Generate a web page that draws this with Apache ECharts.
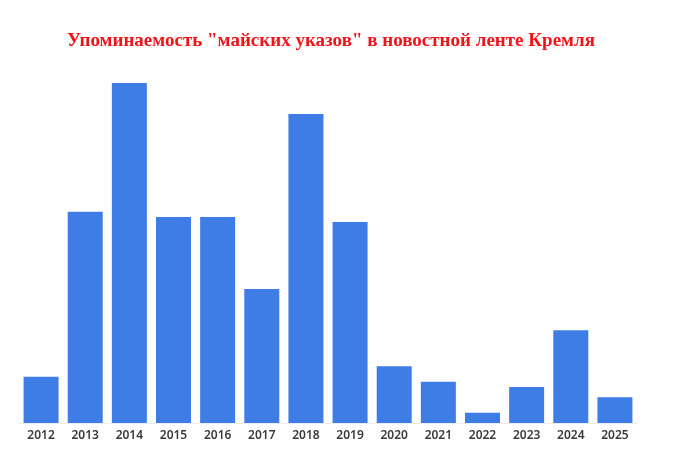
<!DOCTYPE html>
<html><head><meta charset="utf-8">
<script src="https://cdn.jsdelivr.net/npm/echarts@6/dist/echarts.min.js"></script>
<style>html,body{margin:0;padding:0;background:#fff}#c{width:680px;height:451px}</style>
</head><body><div id="c"></div>
<script>
const categories = ['2012','2013','2014','2015','2016','2017','2018','2019','2020','2021','2022','2023','2024','2025'];
const values = [9,41,66,40,40,26,60,39,11,8,2,7,18,5];
const titleText = 'Упоминаемость "майских указов" в новостной ленте Кремля';
const chart = echarts.init(document.getElementById('c'));
chart.setOption({
  animation: false,
  title: {
    text: titleText, left: 326, top: 27, textAlign: 'center',
    textStyle: {fontFamily: 'Liberation Serif', fontWeight: 'bold', fontSize: 19, color: '#f0141a'}
  },
  grid: {left: 19, right: 43, top: 83, bottom: 28},
  xAxis: {
    type: 'category', data: categories,
    axisLine: {show: true, lineStyle: {color: '#ececec'}},
    axisTick: {show: false},
    axisLabel: {fontFamily: 'Noto Sans', fontWeight: 600, fontSize: 12, color: '#3a3a3a', margin: 7}
  },
  yAxis: {type: 'value', min: 0, max: 66, show: false, splitLine: {show: false}},
  series: [{type: 'bar', data: values, barWidth: 35, itemStyle: {color: '#3f7de6'}}]
});
</script></body></html>
